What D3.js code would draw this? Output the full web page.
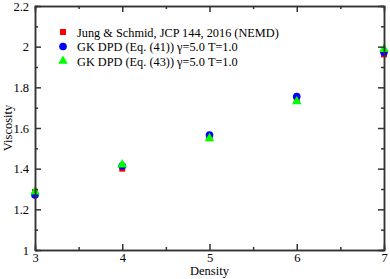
<!DOCTYPE html>
<html lang="en">
<head>
<meta charset="utf-8">
<title>Viscosity vs Density</title>
<style>
  body { margin: 0; background: #fff; }
  svg { display: block; }
</style>
<script src="https://d3js.org/d3.v7.min.js"></script>
</head>
<body>
<div class="chart"></div>
<script>
const density = [3, 4, 5, 6, 7];
const jungNEMD = [1.285, 1.40, 1.55, 1.742, 1.962];
const gkEq41 = [1.27, 1.413, 1.565, 1.755, 1.972];
const gkEq43 = [1.287, 1.42, 1.549, 1.73, 1.988];
const seriesNames = [
  "Jung & Schmid, JCP 144, 2016 (NEMD)",
  "GK DPD (Eq. (41)) \u03b3=5.0 T=1.0",
  "GK DPD (Eq. (43)) \u03b3=5.0 T=1.0"
];
const xTicks = [3, 4, 5, 6, 7];
const yTicks = [1, 1.2, 1.4, 1.6, 1.8, 2, 2.2];

const width = 390, height = 279;
const margin = { top: 6, right: 6, bottom: 29, left: 35 };

const svg = d3.select(".chart").append("svg")
  .attr("width", width)
  .attr("height", height);

const x = d3.scaleLinear().domain([3, 7]).range([margin.left, width - margin.right]);
const y = d3.scaleLinear().domain([1, 2.2]).range([height - margin.bottom, margin.top]);

const font = "'Liberation Serif', 'DejaVu Serif', serif";
const axisColor = "#333";

const series = [
  { name: seriesNames[0], values: jungNEMD, color: "#ff0000", shape: d3.symbolSquare, size: 36 },
  { name: seriesNames[1], values: gkEq41, color: "#0000ff", shape: d3.symbolCircle, size: 46 },
  { name: seriesNames[2], values: gkEq43, color: "#00ff00", shape: d3.symbolTriangle, size: 40 }
];

// points
series.forEach(s => {
  svg.append("g")
    .selectAll("path")
    .data(density.map((d, i) => [d, s.values[i]]))
    .join("path")
    .attr("transform", d => `translate(${x(d[0])},${y(d[1])})`)
    .attr("d", d3.symbol().type(s.shape).size(s.size))
    .attr("fill", s.color);
});

// axes, ticks on the inside, mirrored on all sides
const xMinor = d3.range(3.5, 7, 1);
const yMinor = d3.range(1.1, 2.2, 0.2);

const axBottom = svg.append("g").attr("transform", `translate(0,${y(1)})`)
  .call(d3.axisBottom(x).tickValues(xTicks).tickFormat(d3.format("d")).tickSizeInner(-6).tickSizeOuter(0).tickPadding(3));
axBottom.append("g").call(d3.axisBottom(x).tickValues(xMinor).tickSize(-3).tickFormat(""));

const axTop = svg.append("g").attr("transform", `translate(0,${y(2.2)})`)
  .call(d3.axisTop(x).tickValues(xTicks).tickFormat("").tickSizeInner(-6).tickSizeOuter(0));
axTop.append("g").call(d3.axisTop(x).tickValues(xMinor).tickSize(-3).tickFormat(""));

const axLeft = svg.append("g").attr("transform", `translate(${x(3)},0)`)
  .call(d3.axisLeft(y).tickValues(yTicks).tickFormat(d3.format("")).tickSizeInner(-6).tickSizeOuter(0).tickPadding(6));
axLeft.append("g").call(d3.axisLeft(y).tickValues(yMinor).tickSize(-3).tickFormat(""));

const axRight = svg.append("g").attr("transform", `translate(${x(7)},0)`)
  .call(d3.axisRight(y).tickValues(yTicks).tickFormat("").tickSizeInner(-6).tickSizeOuter(0));
axRight.append("g").call(d3.axisRight(y).tickValues(yMinor).tickSize(-3).tickFormat(""));

svg.selectAll(".domain, .tick line")
  .attr("stroke", axisColor)
  .attr("stroke-width", 1.5);
svg.selectAll(".tick text")
  .attr("fill", "#000")
  .style("font-family", font)
  .style("font-size", "12.5px");

// axis titles
svg.append("text")
  .attr("x", (x(3) + x(7)) / 2)
  .attr("y", 275)
  .attr("text-anchor", "middle")
  .style("font-family", font)
  .style("font-size", "12.5px")
  .text("Density");

svg.append("text")
  .attr("transform", `translate(12,${(y(1) + y(2.2)) / 2}) rotate(-90)`)
  .attr("text-anchor", "middle")
  .style("font-family", font)
  .style("font-size", "12.5px")
  .text("Viscosity");

// legend
const legend = svg.append("g").attr("transform", "translate(63,32)");
series.forEach((s, i) => {
  legend.append("path")
    .attr("transform", `translate(0,${i * 14.5})`)
    .attr("d", d3.symbol().type(s.shape).size(s.size))
    .attr("fill", s.color);
  legend.append("text")
    .attr("x", 14)
    .attr("y", i * 14.5 + 4.5)
    .style("font-family", font)
    .style("font-size", "12.3px")
    .text(s.name);
});
</script>
</body>
</html>
